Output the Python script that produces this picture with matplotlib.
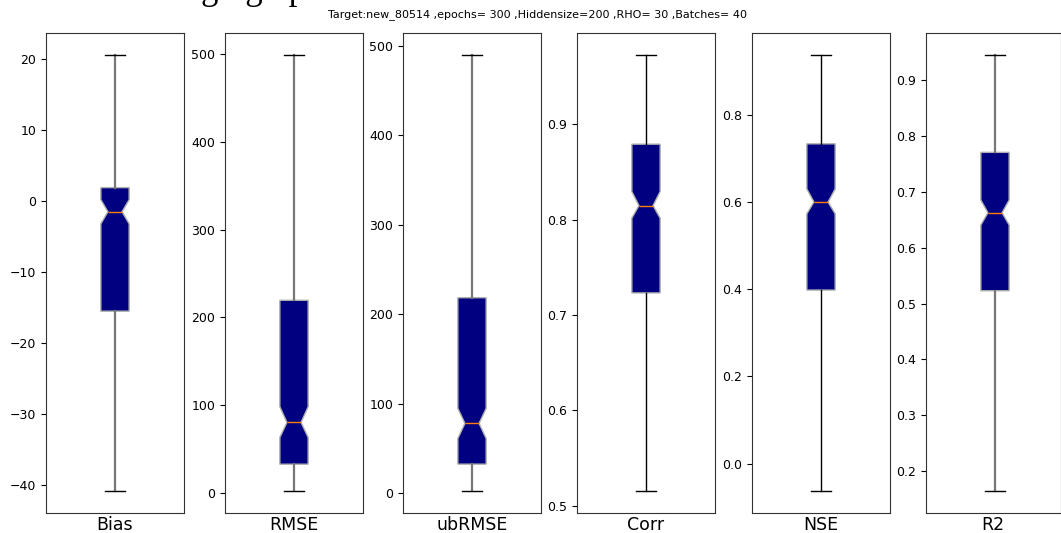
import matplotlib.pyplot as plt

# box statistics for each metric
metrics = ['Bias', 'RMSE', 'ubRMSE', 'Corr', 'NSE', 'R2']
q1 = [-15.5, 33.0, 32.4, 0.723, 0.398, 0.523]
med = [-1.5, 80.6, 77.9, 0.8146, 0.600, 0.6626]
q3 = [1.9, 219.6, 218.3, 0.879, 0.7335, 0.7707]
whislo = [-40.85, 2.3, 2.2, 0.5151, -0.0634, 0.1642]
whishi = [20.6, 499.0, 489.6, 0.9727, 0.9377, 0.9453]
ci_lo = [-3.2, 63.5, 61.1, 0.8014, 0.573, 0.6406]
ci_hi = [0.2, 98.4, 94.7, 0.8293, 0.630, 0.6853]

title = "Target:new_80514 ,epochs= 300 ,Hiddensize=200 ,RHO= 30 ,Batches= 40"

W, H = 1061, 533
fig = plt.figure(figsize=(W / 100, H / 100), dpi=100)

lefts = [46, 225, 403, 577, 752, 926]
widths = [138, 138, 138, 138, 138, 134.5]
top, bottom = 33, 513

whisk_color = ['#777777', '#777777', '#777777', 'black', 'black', '#777777']
whisk_lw = [1.6, 1.6, 1.6, 1.0, 1.0, 1.6]

for i, name in enumerate(metrics):
    ax = fig.add_axes([lefts[i] / W, 1 - bottom / H, widths[i] / W, (bottom - top) / H])
    stats = [dict(med=med[i], q1=q1[i], q3=q3[i], whislo=whislo[i], whishi=whishi[i],
                  cilo=ci_lo[i], cihi=ci_hi[i], fliers=[], label=name)]
    ax.bxp(stats, positions=[1], widths=0.205, capwidths=0.14,
           shownotches=True, patch_artist=True, showfliers=False,
           boxprops=dict(facecolor='#000080', edgecolor='#b0b0b0', linewidth=1),
           medianprops=dict(color='#ff7f0e', linewidth=1),
           whiskerprops=dict(color=whisk_color[i], linewidth=whisk_lw[i]),
           capprops=dict(color='black', linewidth=1))
    # last panel runs off the right edge, keep the same data scale
    ax.set_xlim(0.5, 0.5 + widths[i] / 138)
    ax.set_xticks([])
    ax.set_xlabel(name, fontsize=12.5, labelpad=2)
    ax.tick_params(axis='y', labelsize=9)
    for sp in ax.spines.values():
        sp.set_color('#333333')

fig.text(538 / W, 1 - 15 / H, title, ha='center', va='center', fontsize=8)
fig.text(201 / W, 1 + 1 / H, 'ging up', ha='left', va='baseline',
         family='Liberation Serif', fontsize=25)

fig.savefig('out.png', dpi=100)
